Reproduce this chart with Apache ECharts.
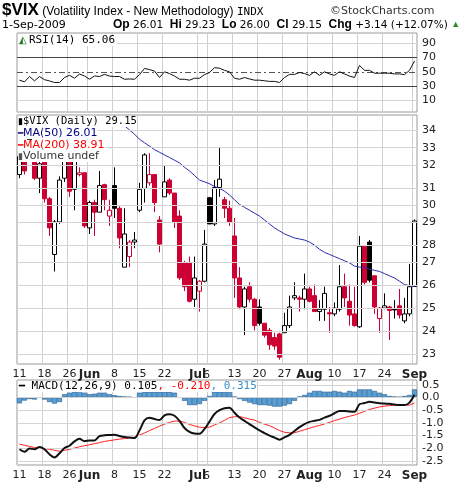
<!DOCTYPE html>
<html>
<head>
<meta charset="utf-8">
<script src="https://cdn.jsdelivr.net/npm/echarts@6/dist/echarts.min.js"></script>
<style>
  html, body { margin: 0; padding: 0; background: #fff; }
  #chart { width: 460px; height: 482px; }
</style>
</head>
<body>
<div id="chart"></div>
<script>
// trading days May 11 - Sep 1 2009
var dates = [
  '5/11','5/12','5/13','5/14','5/15','5/18','5/19','5/20','5/21','5/22','5/26','5/27','5/28','5/29',
  '6/1','6/2','6/3','6/4','6/5','6/8','6/9','6/10','6/11','6/12','6/15','6/16','6/17','6/18','6/19',
  '6/22','6/23','6/24','6/25','6/26','6/29','6/30',
  '7/1','7/2','7/6','7/7','7/8','7/9','7/10','7/13','7/14','7/15','7/16','7/17','7/20','7/21','7/22','7/23','7/24',
  '7/27','7/28','7/29','7/30','7/31',
  '8/3','8/4','8/5','8/6','8/7','8/10','8/11','8/12','8/13','8/14','8/17','8/18','8/19','8/20','8/21',
  '8/24','8/25','8/26','8/27','8/28','8/31','9/1'
];
// vertical grid lines and tick labels ("Jul" and "6" print on top of each other)
var gridDates = ['5/11','5/18','5/26','6/1','6/8','6/15','6/22','7/1','7/6','7/13','7/20','7/27','8/3','8/10','8/17','8/24','9/1'];
var labelDates = ['5/11','5/18','5/26','6/1','6/8','6/15','6/22','7/1','7/13','7/20','7/27','8/3','8/10','8/17','8/24','9/1'];
var monthNames = { '6/1': 'Jun', '7/1': 'Jul', '8/3': 'Aug', '9/1': 'Sep' };

var opens = [31.6,32.5,32.8,32.4,31.4,32.4,30.3,27.5,29.1,31.4,32.3,30.8,31.6,31.7,28.8,30.1,29.6,31.05,29.4,31.0,
  29.8,26.9,27.4,28.1,29.7,30.85,31.15,31.6,29.2,30.4,31.3,30.6,29.4,27.1,27.1,25.44,25.8,26.25,30.35,29.0,
  30.9,30.25,29.8,28.4,26.4,25.1,26.0,25.44,25.1,24.4,24.1,23.8,23.95,24.0,24.3,25.5,25.5,25.44,25.9,25.6,
  24.9,25.0,24.85,24.8,25.0,26.0,25.35,24.8,24.25,27.9,28.1,26.5,24.6,25.05,25.1,25.0,25.15,24.5,24.8,26.01];
var highs = [33.0,32.6,34.2,32.8,32.5,32.6,30.4,29.2,31.5,33.3,32.6,32.6,32.0,31.7,30.2,30.25,31.8,31.1,30.25,32.0,
  29.9,29.8,28.2,28.6,31.15,32.8,32.8,31.6,29.4,32.1,31.4,30.6,29.7,27.2,27.4,27.4,26.3,28.7,30.4,31.3,
  33.1,30.4,30.2,29.3,26.9,26.0,26.2,25.5,25.44,24.4,24.2,24.0,24.0,24.85,25.6,26.2,25.6,26.6,26.0,26.1,
  25.4,26.0,25.1,25.3,27.0,26.6,26.1,26.0,28.4,27.9,28.2,26.5,25.1,25.7,25.15,25.4,25.9,25.5,27.05,29.23];
var lows = [31.4,31.6,32.6,31.3,30.6,30.1,28.4,26.7,29.0,31.2,30.4,29.7,31.5,28.8,28.5,28.4,29.6,29.7,28.9,29.3,
  27.8,26.9,26.9,27.8,29.6,30.1,31.0,29.6,27.6,30.4,30.5,28.8,26.3,25.8,25.3,25.1,24.9,26.2,29.0,28.9,
  30.4,29.3,28.9,25.5,25.0,23.9,25.3,24.1,24.3,23.8,23.3,23.3,22.9,24.0,24.2,25.4,24.9,25.0,25.3,24.9,
  24.5,24.5,24.0,24.7,24.9,25.1,24.3,24.25,24.2,26.1,26.2,24.8,24.0,25.0,23.7,24.6,24.6,24.4,24.7,26.0];
var closes = [32.6,31.8,33.6,31.4,32.2,30.3,28.8,29.1,31.3,32.6,30.7,32.4,31.7,28.9,30.1,29.6,31.0,30.25,29.7,29.8,
  28.3,28.5,28.1,28.2,30.8,32.7,31.6,30.1,28.0,31.2,30.6,29.1,26.4,26.0,25.35,26.4,26.25,28.0,29.0,30.9,
  31.35,29.8,29.1,26.4,25.1,25.9,25.44,24.3,24.4,23.9,23.5,23.45,23.0,24.3,25.1,25.6,25.44,25.9,25.35,24.9,
  25.0,25.7,24.8,25.05,26.0,25.5,24.75,24.3,27.9,26.2,26.3,25.1,25.05,25.15,24.95,24.97,24.75,24.8,26.0,29.15];
var ma50 = [null,null,null,null,null,null,null,null,null,null,null,null,null,null,null,null,null,null,null,35.0,
  34.7,34.4,34.15,33.9,33.6,33.4,33.2,33.0,32.85,32.7,32.55,32.4,32.25,32.0,31.8,31.55,31.3,31.2,31.1,30.95,
  30.85,30.7,30.5,30.25,30.0,29.85,29.7,29.55,29.4,29.2,29.0,28.8,28.65,28.5,28.4,28.3,28.25,28.2,28.1,27.95,
  27.75,27.6,27.5,27.4,27.3,27.2,27.1,26.95,26.9,26.9,26.8,26.75,26.7,26.6,26.5,26.4,26.25,26.1,26.05,26.01];
var priceTicks = [23,24,25,26,27,28,29,30,31,32,33,34];

var rsi = [38.3,36,43.4,37.3,43.4,39,37.3,35.1,35.1,42,45.1,41,46.9,44.2,39.6,44.2,43.4,46.4,44,43.4,
  43.4,39.6,40,39.6,46,54.7,53,51,42,50,47.5,44,39.6,39.6,38.3,41,41,46,49,55.7,
  55,52,50,41,39.6,42,40,38.3,38.3,37.5,36.6,36.6,35.1,42,46.4,46.4,49,47.5,45,50,
  45,50,47,45,50,47,44,42,58.9,52,52,48,48,48,48,47,47,46,52,65.06];

var macd = [-2.04,-2.14,-2.01,-2.04,-1.95,-2.04,-2.24,-2.36,-2.2,-1.99,-1.9,-1.73,-1.63,-1.72,-1.69,-1.69,-1.52,-1.49,-1.48,-1.47,
  -1.52,-1.56,-1.58,-1.6,-1.3,-0.9,-0.8,-0.85,-0.89,-0.7,-0.66,-0.72,-0.92,-1.2,-1.35,-1.42,-1.43,-1.24,-0.95,-0.65,
  -0.5,-0.42,-0.4,-0.6,-0.79,-0.92,-1.05,-1.18,-1.3,-1.4,-1.5,-1.58,-1.66,-1.57,-1.47,-1.32,-1.17,-1.05,-0.96,-0.92,
  -0.88,-0.79,-0.72,-0.62,-0.53,-0.53,-0.55,-0.56,-0.27,-0.22,-0.17,-0.2,-0.23,-0.24,-0.25,-0.28,-0.3,-0.3,-0.2,0.105];
var signal = [-1.84,-1.88,-1.93,-1.97,-2.0,-2.02,-2.04,-2.08,-2.12,-2.08,-2.04,-1.99,-1.94,-1.9,-1.86,-1.82,-1.78,-1.73,-1.7,-1.67,
  -1.64,-1.62,-1.59,-1.56,-1.48,-1.4,-1.3,-1.22,-1.13,-1.05,-0.98,-0.93,-0.93,-0.98,-1.06,-1.12,-1.17,-1.18,-1.17,-1.08,
  -1.0,-0.9,-0.79,-0.76,-0.75,-0.8,-0.85,-0.89,-0.98,-1.05,-1.11,-1.2,-1.3,-1.37,-1.39,-1.39,-1.33,-1.27,-1.21,-1.15,
  -1.1,-1.04,-0.98,-0.91,-0.85,-0.79,-0.74,-0.69,-0.62,-0.55,-0.47,-0.42,-0.37,-0.34,-0.32,-0.3,-0.3,-0.3,-0.3,-0.21];
var hist = [-0.23,-0.12,-0.06,-0.08,0,-0.08,-0.18,-0.24,-0.18,0.13,0.19,0.23,0.26,0.19,0.13,0.15,0.19,0.19,0.13,0.09,
  0.06,0.04,0.03,0,0.19,0.23,0.23,0.23,0.23,0.23,0.23,0.19,0,-0.13,-0.3,-0.3,-0.26,-0.13,0.06,0.23,
  0.23,0.23,0.22,0.04,-0.06,-0.13,-0.2,-0.26,-0.3,-0.3,-0.32,-0.36,-0.36,-0.32,-0.26,-0.13,0.04,0.1,0.19,0.26,
  0.26,0.23,0.23,0.26,0.23,0.19,0.26,0.23,0.32,0.32,0.32,0.26,0.19,0.13,0.06,0.04,0.03,0.06,0.1,0.32];
var macdTicks = [0.5,0,-0.5,-1,-1.5,-2,-2.5];

var FONT = 'DejaVu Sans';
var MONO = 'DejaVu Sans Mono';
var RED = '#cc0033';

// candles on a log price scale: plot ln(value)
var candleData = opens.map(function (o, i) {
  var c = closes[i];
  var col = (i > 0 && c < closes[i - 1]) ? RED : '#000';
  var fill = c > o ? '#fff' : col;
  return {
    value: [Math.log(o), Math.log(c), Math.log(lows[i]), Math.log(highs[i])],
    itemStyle: { color: fill, color0: fill, borderColor: col, borderColor0: col, borderWidth: 1 }
  };
});

function hLines(ticks, toY, fmt, style) {
  return ticks.map(function (t) {
    return { yAxis: toY(t), label: { formatter: fmt(t) }, lineStyle: style };
  });
}
var lineLabel = { show: true, position: 'end', distance: 5, color: '#222', fontSize: 11, fontFamily: FONT };
var lightLine = { color: '#d4d4d4', type: 'solid', width: 1 };

function xAxisFor(gridIndex, showLabels) {
  return {
    type: 'category', gridIndex: gridIndex, data: dates, boundaryGap: true,
    axisLine: { show: false }, axisTick: { show: false },
    axisLabel: {
      show: showLabels, margin: 5, fontSize: 11, fontFamily: FONT, color: '#222',
      interval: function (i, v) { return labelDates.indexOf(v) >= 0; },
      formatter: function (v) {
        if (v === '7/1') return '{m|Jul}{d|6}';
        return monthNames[v] ? '{m|' + monthNames[v] + '}' : v.split('/')[1];
      },
      rich: {
        m: { fontWeight: 'bold', fontSize: 12, fontFamily: FONT, color: '#222' },
        d: { fontSize: 11, fontFamily: FONT, color: '#222', padding: [0, 0, 0, -3] }
      }
    },
    splitLine: {
      show: true,
      interval: function (i, v) { return gridDates.indexOf(v) >= 0; },
      lineStyle: { color: '#cfcfcf', width: 1 }
    }
  };
}

function legendLine(top, parts) {
  return { type: 'text', left: 18, top: top, z: 10, style: {
    text: parts, fontSize: 10.5, fontFamily: MONO, fill: '#000', backgroundColor: '#fff',
    rich: {
      k: { fill: '#000', fontSize: 9 },
      bl: { fill: '#000080', fontSize: 9 }, bt: { fill: '#000080', fontSize: 11, fontFamily: FONT },
      rl: { fill: '#ff0000', fontSize: 9 }, rt: { fill: '#ff0000', fontSize: 11, fontFamily: FONT },
      gl: { fill: '#555', fontSize: 9 }, gt: { fill: '#333', fontSize: 11, fontFamily: FONT }
    }
  } };
}

var chart = echarts.init(document.getElementById('chart'), null, { renderer: 'canvas' });

var hiddenY = { axisLabel: { show: false }, axisLine: { show: false }, axisTick: { show: false }, splitLine: { show: false } };

var option = {
  animation: false,
  backgroundColor: '#fff',
  grid: [
    { left: 17, right: 43, top: 33, height: 79, show: true, borderColor: '#999', borderWidth: 1 },
    { left: 17, right: 43, top: 115, height: 249, show: true, borderColor: '#999', borderWidth: 1 },
    { left: 17, right: 43, top: 380, height: 87, show: true, borderColor: '#999', borderWidth: 1 }
  ],
  xAxis: [xAxisFor(0, false), xAxisFor(1, true), xAxisFor(2, true)],
  yAxis: [
    Object.assign({ type: 'value', gridIndex: 0, min: -6, max: 104, position: 'right' }, hiddenY),
    Object.assign({ type: 'value', gridIndex: 1, min: Math.log(22.73), max: Math.log(35.05), position: 'right' }, hiddenY),
    Object.assign({ type: 'value', gridIndex: 2, min: -2.66, max: 0.69, position: 'right' }, hiddenY)
  ],
  series: [
    {
      type: 'line', xAxisIndex: 0, yAxisIndex: 0, data: rsi, symbol: 'none',
      lineStyle: { color: '#111', width: 1 },
      markLine: {
        silent: true, symbol: 'none', animation: false, label: lineLabel,
        data: hLines([90, 10], Number, String, lightLine)
          .concat(hLines([70, 30], Number, String, { color: '#444', type: 'solid', width: 1 }))
          .concat(hLines([50], Number, String, { color: '#555', type: [6, 3, 2, 3], width: 1 }))
      },
      z: 5
    },
    {
      type: 'candlestick', xAxisIndex: 1, yAxisIndex: 1, data: candleData, barWidth: 4,
      markLine: {
        silent: true, symbol: 'none', animation: false, label: lineLabel,
        data: hLines(priceTicks, Math.log, String, lightLine)
      },
      z: 3
    },
    {
      type: 'line', xAxisIndex: 1, yAxisIndex: 1, symbol: 'none',
      data: ma50.map(function (v) { return v == null ? null : Math.log(v); }),
      lineStyle: { color: '#2b2bb0', width: 1 }, z: 4
    },
    {
      type: 'bar', xAxisIndex: 2, yAxisIndex: 2, data: hist, barCategoryGap: 0,
      itemStyle: { color: '#56a0d3', borderColor: '#2a5d94', borderWidth: 0.6 },
      markLine: {
        silent: true, symbol: 'none', animation: false, label: lineLabel,
        data: hLines(macdTicks, Number, function (t) { return t.toFixed(1); }, lightLine)
      },
      z: 2
    },
    {
      type: 'line', xAxisIndex: 2, yAxisIndex: 2, data: signal, symbol: 'none',
      lineStyle: { color: '#ff2020', width: 1 }, z: 4
    },
    {
      type: 'line', xAxisIndex: 2, yAxisIndex: 2, data: macd, symbol: 'none', smooth: 0.3,
      lineStyle: { color: '#111', width: 2 }, z: 5
    }
  ],
  graphic: [
    { type: 'text', left: 2, top: 2, style: {
      text: '{b|$VIX} {n|(Volatility Index - New Methodology)} {s|INDX}',
      rich: {
        b: { fontSize: 17, fontWeight: 'bold', fontFamily: 'Liberation Sans', fill: '#000' },
        n: { fontSize: 12, fontFamily: 'Liberation Sans', fill: '#000', padding: [3, 0, 0, 0] },
        s: { fontSize: 11, fontFamily: MONO, fill: '#000', padding: [3, 0, 0, 0] }
      } } },
    { type: 'text', left: 330, top: 6, style: { text: '©StockCharts.com', fontSize: 11, fontFamily: FONT, fill: '#333' } },
    { type: 'text', left: 2, top: 20, style: { text: '1-Sep-2009', fontSize: 11, fontFamily: FONT, fill: '#000' } },
    { type: 'text', left: 113, top: 19, style: {
      text: '{b|Op} 26.01  {b|Hi} 29.23  {b|Lo} 26.00  {b|Cl} 29.15  {b|Chg} +3.14 (+12.07%) {g|▲}',
      fontSize: 10.5, fontFamily: FONT, fill: '#000',
      rich: { b: { fontWeight: 'bold', fontSize: 12, fontFamily: 'Liberation Sans' }, g: { fill: '#2a8a2a', fontSize: 9 } }
    } },
    { type: 'text', left: 19, top: 35, z: 10, style: {
      text: '{i|◭}RSI(14) 65.06', fontSize: 11, fontFamily: MONO, fill: '#000',
      backgroundColor: '#fff', padding: [0, 2, 0, 0],
      rich: { i: { fill: '#2a7a2a', fontSize: 10, padding: [0, 2, 0, 0] } }
    } },
    legendLine(116, '{k|▮}$VIX (Daily) 29.15'),
    legendLine(128, '{bl|━}{bt|MA(50) 26.01}'),
    legendLine(140, '{rl|━}{rt|MA(200) 38.91}'),
    legendLine(151, '{gl|▮}{gt|Volume undef}'),
    { type: 'text', left: 19, top: 381, z: 10, style: {
      text: '{k|━} MACD(12,26,9) 0.105{r|, -0.210}{c|, 0.315}', fontSize: 11, fontFamily: MONO, fill: '#000',
      backgroundColor: '#fff',
      rich: { k: { fill: '#000', fontSize: 10 }, r: { fill: '#ff0000', fontSize: 11, fontFamily: MONO }, c: { fill: '#3a8fc8', fontSize: 11, fontFamily: MONO } }
    } }
  ]
};

chart.setOption(option);
window.addEventListener('resize', function () { chart.resize(); });
</script>
</body>
</html>
